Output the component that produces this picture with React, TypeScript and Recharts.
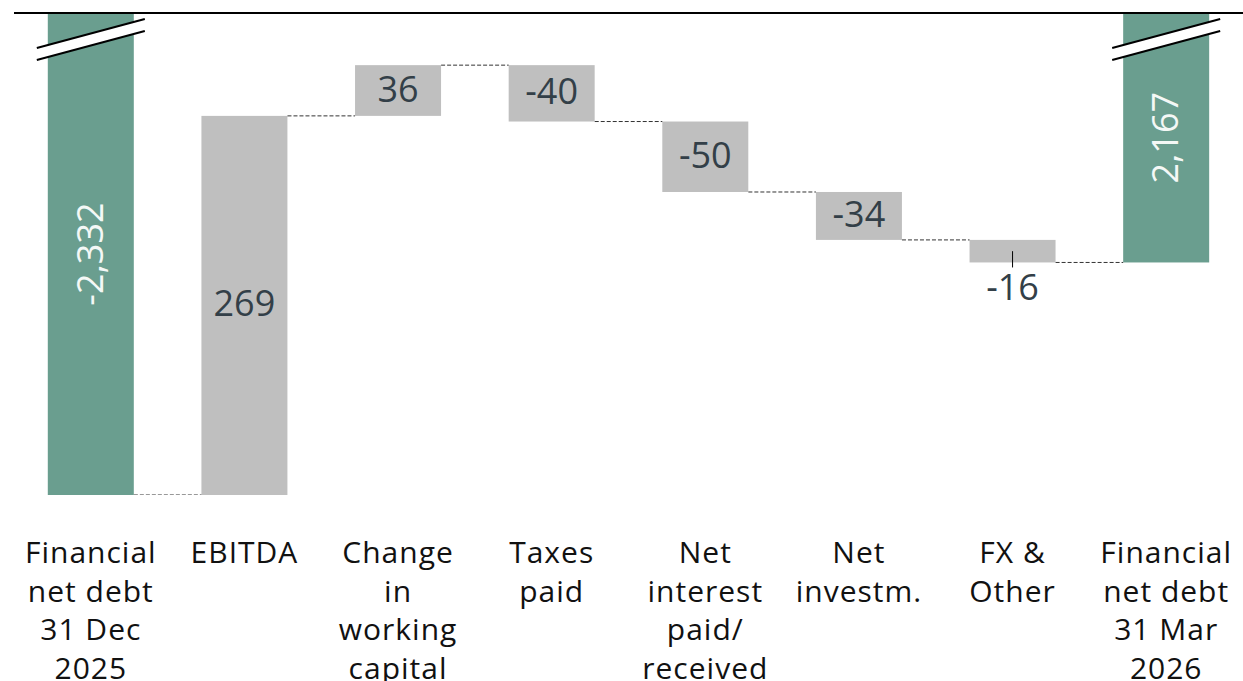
import { BarChart, Bar, XAxis, YAxis, ReferenceLine } from "recharts"

const categoryLines = [
  ["Financial", "net debt", "31 Dec", "2025"],
  ["EBITDA"],
  ["Change", "in", "working", "capital"],
  ["Taxes", "paid"],
  ["Net", "interest", "paid/", "received"],
  ["Net", "investm."],
  ["FX &", "Other"],
  ["Financial", "net debt", "31 Mar", "2026"],
]
const openingDebt = 2332
// contribution of each step to net debt reduction
const steps = [269, 36, -40, -50, -34, -16]
const closingDebt = 2167
const valueLabels = ["-2,332", "269", "36", "-40", "-50", "-34", "-16", "2,167"]

// axis cut: the total bars are broken at the top
const AXIS_TOP = 1990
const CAT_GAP = 0.22

const GREEN = "#6a9e8f"
const GRAY = "#bfbfbf"
const FONT = "'Open Sans', 'DejaVu Sans', sans-serif"

type Row = { name: string; range: [number, number]; total: boolean; connector: number | null; label: string }

const rows: Row[] = []
rows.push({ name: "c0", range: [AXIS_TOP, openingDebt], total: true, connector: null, label: valueLabels[0] })
let level = openingDebt
steps.forEach((s, i) => {
  const prev = level
  level = prev - s
  rows.push({
    name: "c" + (i + 1),
    range: [Math.min(prev, level), Math.max(prev, level)],
    total: false,
    connector: prev,
    label: valueLabels[i + 1],
  })
})
rows.push({ name: "c7", range: [AXIS_TOP, closingDebt], total: true, connector: closingDebt, label: valueLabels[7] })

const WaterfallShape = (props: any) => {
  const { x, y, width, height, payload } = props
  const top = Math.min(y, y + height)
  const bottom = Math.max(y, y + height)
  const h = bottom - top
  const cx = x + width / 2
  const gap = (width * 2 * CAT_GAP) / (1 - 2 * CAT_GAP)
  let connY: number | null = null
  if (payload.connector !== null) {
    connY = payload.connector === payload.range[1] ? bottom : top
  }
  return (
    <g>
      <rect x={x} y={top} width={width} height={h} fill={payload.total ? GREEN : GRAY} />
      {connY !== null && (
        <line x1={x - gap} x2={x} y1={connY} y2={connY} stroke="#333" strokeWidth={1} strokeDasharray="4 2" />
      )}
      {payload.total && (
        <g>
          <polygon
            points={`${x - 11},${top + 35} ${x + width + 11},${top + 6} ${x + width + 11},${top + 18} ${x - 11},${top + 47}`}
            fill="#fff"
          />
          <line x1={x - 11} y1={top + 35} x2={x + width + 11} y2={top + 6} stroke="#000" strokeWidth={2} />
          <line x1={x - 11} y1={top + 47} x2={x + width + 11} y2={top + 18} stroke="#000" strokeWidth={2} />
          <text
            x={cx}
            y={(top + bottom) / 2 + 12}
            transform={`rotate(-90, ${cx}, ${(top + bottom) / 2})`}
            textAnchor="middle"
            fill="#f4f8f6"
            fontSize={36}
            fontFamily={FONT}
          >
            {payload.label}
          </text>
        </g>
      )}
      {!payload.total && h >= 40 && (
        <text x={cx} y={(top + bottom) / 2 + 11} textAnchor="middle" fill="#333f48" fontSize={36} fontFamily={FONT}>
          {payload.label}
        </text>
      )}
      {!payload.total && h < 40 && (
        <g>
          <line x1={cx} x2={cx} y1={(top + bottom) / 2} y2={bottom + 5} stroke="#000" strokeWidth={1} />
          <text x={cx} y={bottom + 38} textAnchor="middle" fill="#333f48" fontSize={36} fontFamily={FONT}>
            {payload.label}
          </text>
        </g>
      )}
    </g>
  )
}

const CategoryTick = (props: any) => {
  const { x, y, index } = props
  const lines = categoryLines[index] || []
  return (
    <text x={x} y={y + 68} textAnchor="middle" fill="#111" fontSize={30} fontFamily={FONT} letterSpacing={1}>
      {lines.map((l, i) => (
        <tspan key={i} x={x} dy={i === 0 ? 0 : 38.5}>
          {l}
        </tspan>
      ))}
    </text>
  )
}

export default function App() {
  return (
    <div style={{ position: "absolute", left: 0, top: 0, width: 1243, height: 681, background: "#fff" }}>
      <BarChart
        width={1243}
        height={681}
        data={rows}
        margin={{ top: 13, right: 0, bottom: 0, left: 14 }}
        barCategoryGap={`${CAT_GAP * 100}%`}
      >
        <XAxis
          dataKey="name"
          height={186}
          axisLine={false}
          tickLine={false}
          tickSize={0}
          tickMargin={0}
          interval={0}
          tick={<CategoryTick />}
        />
        <YAxis hide reversed domain={[AXIS_TOP, openingDebt]} allowDataOverflow type="number" />
        <Bar dataKey="range" shape={<WaterfallShape />} isAnimationActive={false} />
        <ReferenceLine y={AXIS_TOP} stroke="#000" strokeWidth={2} />
      </BarChart>
    </div>
  )
}
